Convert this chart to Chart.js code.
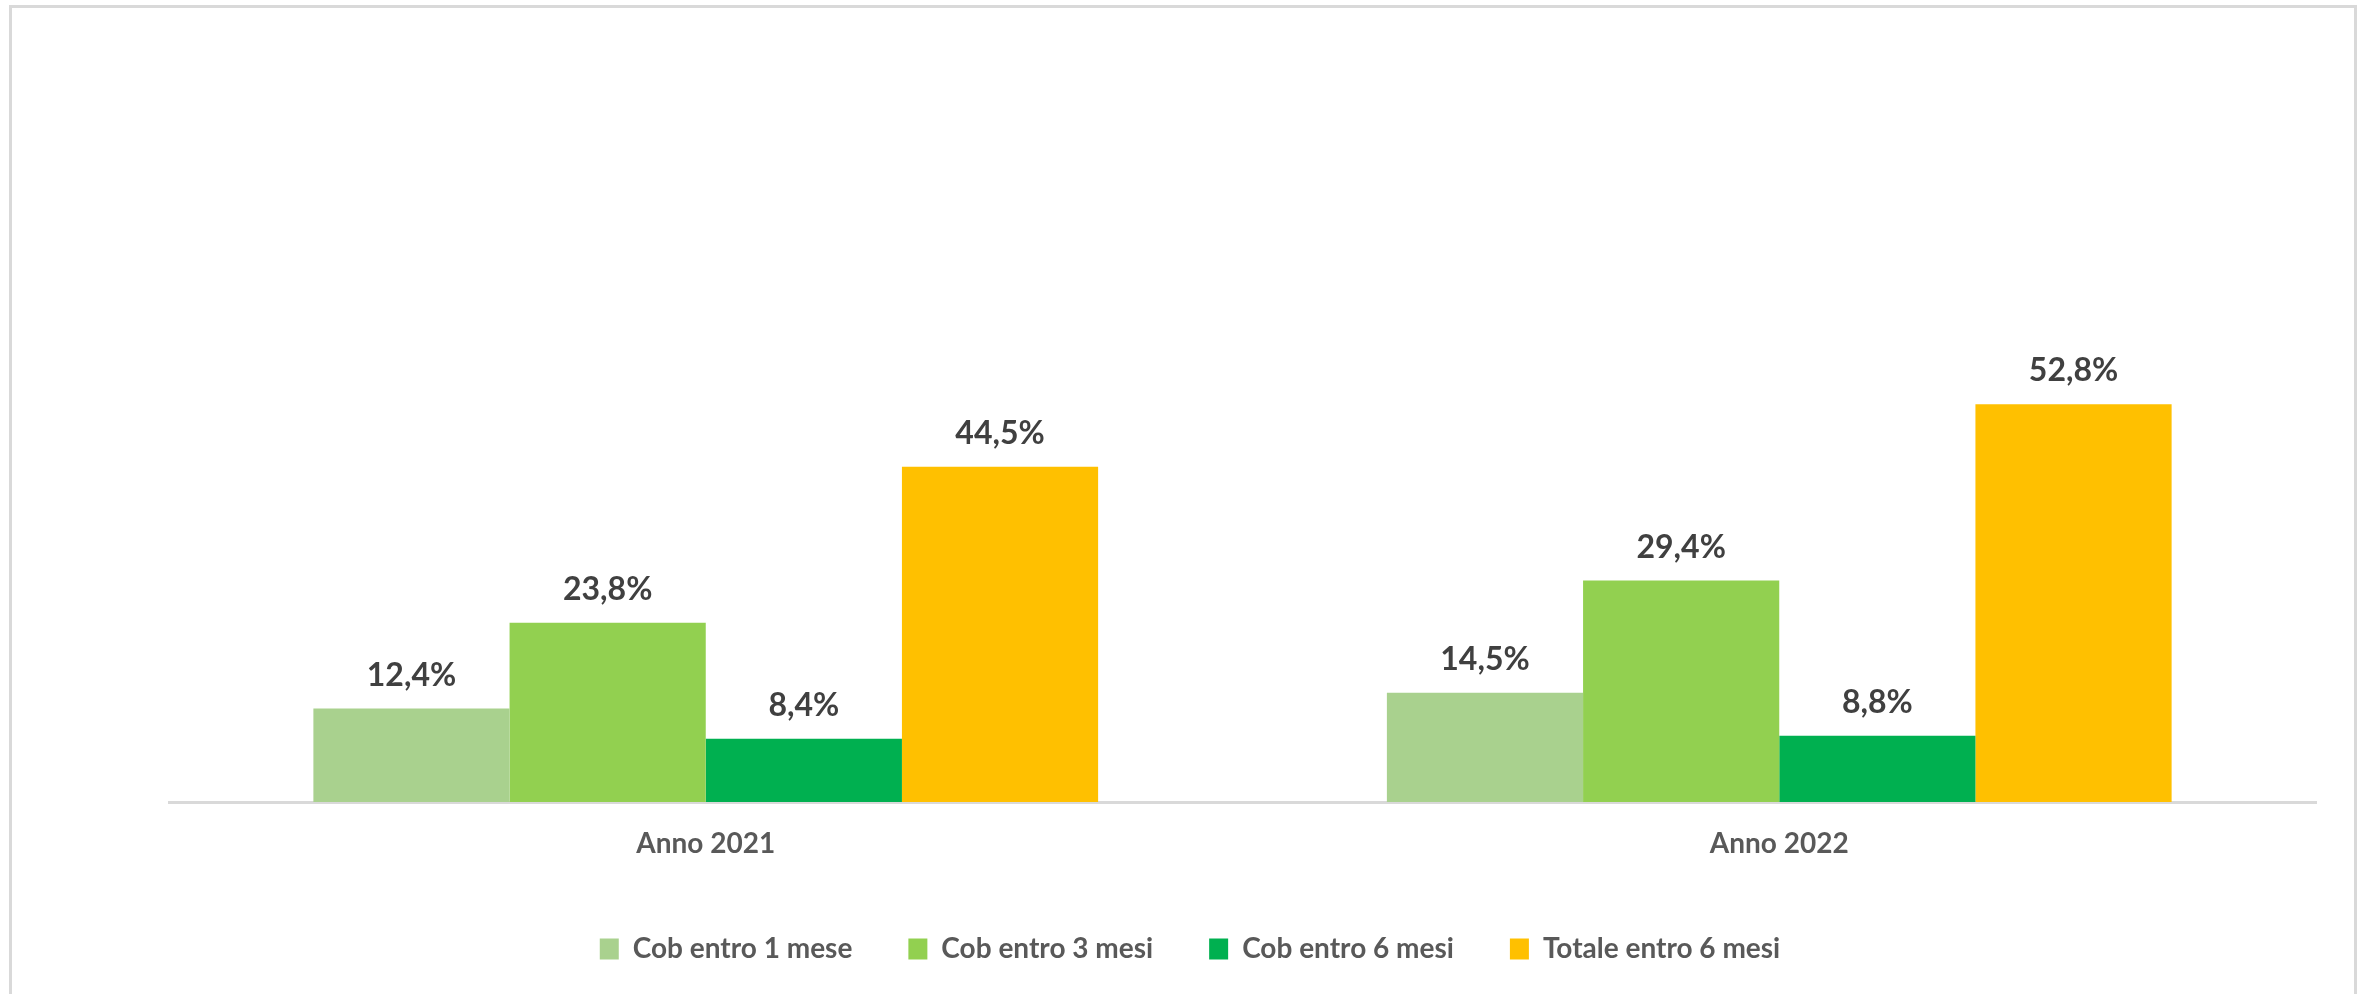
<!DOCTYPE html>
<html>
<head>
<meta charset="utf-8">
<script src="https://cdn.jsdelivr.net/npm/chart.js@4.4.1/dist/chart.umd.min.js"></script>
<style>
  html, body { margin: 0; padding: 0; background: #ffffff; }
  #wrap { position: relative; width: 2361px; height: 994px; overflow: hidden; background: #ffffff; }
  #frame { position: absolute; left: 9px; top: 5px; width: 2348px; height: 1000px; border: 3px solid #d9d9d9; box-sizing: border-box; }
  canvas { position: absolute; left: 0; top: 0; }
</style>
</head>
<body>
<div id="wrap">
  <div id="frame"></div>
  <canvas id="c" width="2361" height="994"></canvas>
</div>
<script>
const categories = ['Anno 2021', 'Anno 2022'];
const seriesNames = ['Cob entro 1 mese', 'Cob entro 3 mesi', 'Cob entro 6 mesi', 'Totale entro 6 mesi'];
const cob1Mese = [12.4, 14.5];
const cob3Mesi = [23.8, 29.4];
const cob6Mesi = [8.4, 8.8];
const totale6Mesi = [44.5, 52.8];
const seriesColors = ['#A9D18E', '#92D050', '#00B050', '#FFC000'];

const seriesValues = [cob1Mese, cob3Mesi, cob6Mesi, totale6Mesi];

const valueLabels = {
  id: 'valueLabels',
  afterDatasetsDraw(chart) {
    const ctx = chart.ctx;
    ctx.save();
    ctx.font = 'bold 32px Lato';
    ctx.fillStyle = '#404040';
    ctx.textAlign = 'center';
    ctx.textBaseline = 'alphabetic';
    chart.data.datasets.forEach((ds, i) => {
      const meta = chart.getDatasetMeta(i);
      meta.data.forEach((bar, j) => {
        const v = ds.data[j];
        const txt = v.toFixed(1).replace('.', ',') + '%';
        ctx.fillText(txt, bar.x, bar.y - 23);
      });
    });
    ctx.restore();
  }
};

new Chart(document.getElementById('c'), {
  type: 'bar',
  data: {
    labels: categories,
    datasets: seriesNames.map((n, i) => ({
      label: n,
      data: seriesValues[i],
      backgroundColor: seriesColors[i],
      borderWidth: 0,
      barPercentage: 1.0,
      categoryPercentage: 0.731
    }))
  },
  options: {
    responsive: false,
    animation: false,
    devicePixelRatio: 1,
    layout: { padding: { left: 19, right: 0, top: 350, bottom: 21 } },
    scales: {
      x: {
        grid: { display: false, drawTicks: false },
        border: { display: true, color: '#d9d9d9', width: 3 },
        ticks: { color: '#595959', font: { family: 'Lato', size: 28, weight: 'bold' }, padding: 25 },
        afterFit(scale) { scale.height = 77; }
      },
      y: {
        display: true,
        min: 0,
        max: 60,
        grid: { display: false, drawTicks: false },
        border: { display: false },
        ticks: { display: false },
        afterFit(scale) { scale.width = 150; }
      },
      y2: {
        display: true,
        position: 'right',
        min: 0,
        max: 60,
        grid: { display: false, drawTicks: false },
        border: { display: false },
        ticks: { display: false },
        afterFit(scale) { scale.width = 45; }
      }
    },
    plugins: {
      tooltip: { enabled: false },
      legend: {
        position: 'bottom',
        labels: {
          boxWidth: 19,
          boxHeight: 21,
          padding: 56,
          color: '#595959',
          font: { family: 'Lato', size: 28, weight: 'bold' }
        }
      }
    }
  },
  plugins: [valueLabels]
});
</script>
</body>
</html>
